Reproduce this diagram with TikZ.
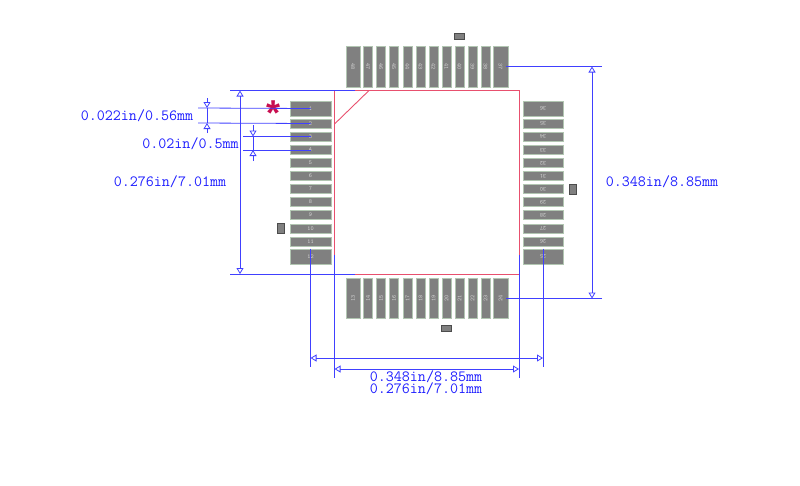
\documentclass[tikz,border=0pt]{standalone}
\usepackage{xcolor}
\usepackage{fontspec}
\newfontfamily\starfont{Liberation Sans}
\usetikzlibrary{arrows.meta}
\definecolor{padgray}{RGB}{128,128,128}
\definecolor{padedge}{RGB}{178,198,178}
\definecolor{dimblue}{RGB}{30,30,255}
\definecolor{outlinepink}{RGB}{232,80,110}
\definecolor{starred}{RGB}{200,15,80}
\tikzset{
     pad node/.style={fill=padgray, draw=padedge, line width=0.35pt, inner sep=0pt, text=white!65!padgray,
        font=\ttfamily\fontsize{6}{6}\selectfont},
     mark node/.style={fill=padgray, draw=black!70, line width=1pt, inner sep=0pt},
     dim node/.style={text=dimblue, inner sep=0pt, font=\ttfamily\fontsize{15.6}{15.6}\selectfont},
     witness/.style={dimblue!85, line width=0.8pt},
     dimline/.style={dimblue!85, line width=0.8pt, {Triangle[open,length=6pt,width=7pt]}-{Triangle[open,length=6pt,width=7pt]}},
     dimin/.style={dimblue!85, line width=0.8pt, -{Triangle[open,length=6pt,width=7pt]}},
     outline/.style={outlinepink, line width=0.9pt},
}
\begin{document}
\begin{tikzpicture}[x=1pt,y=-1pt]
    \useasboundingbox (0,0) rectangle (800,485);

    % package body
    \draw[outline] (334.5,90.5) rectangle (519,274);
    \draw[outline] (334.5,124) -- (369,90.5);

    % left side
    \node [pad node, minimum width=41pt, minimum height=15pt] (p1) at (310.5,108.5) {1};
    \foreach \n/\y in {2/123.5,3/136.5,4/150,5/163,6/176,7/189,8/202,9/215,10/228.5,11/241.5}
        \node [pad node, minimum width=41pt, minimum height=9pt] (p\n) at (310.5,\y) {\n};
    \node [pad node, minimum width=41pt, minimum height=15pt] (p12) at (310.5,256.5) {12};

    % bottom side
    \node [pad node, minimum width=14pt, minimum height=40pt] (p13) at (353,298.5) {\rotatebox{90}{13}};
    \foreach \n/\x in {14/368,15/381,16/394,17/407.5,18/420.5,19/433.5,20/446.5,21/459.5,22/472.5,23/485.5}
        \node [pad node, minimum width=9pt, minimum height=40pt] (p\n) at (\x,298.5) {\rotatebox{90}{\n}};
    \node [pad node, minimum width=15pt, minimum height=40pt] (p24) at (500.5,298.5) {\rotatebox{90}{24}};

    % right side
    \node [pad node, minimum width=40pt, minimum height=15pt] (p36) at (543,108.5) {\rotatebox{180}{36}};
    \foreach \n/\y in {35/123.5,34/136.5,33/150,32/163,31/176,30/189,29/202,28/215,27/228.5,26/241.5}
        \node [pad node, minimum width=40pt, minimum height=9pt] (p\n) at (543,\y) {\rotatebox{180}{\n}};
    \node [pad node, minimum width=40pt, minimum height=15pt] (p25) at (543,256.5) {\rotatebox{180}{25}};

    % top side
    \node [pad node, minimum width=14pt, minimum height=41pt] (p48) at (353,66.5) {\rotatebox{-90}{48}};
    \foreach \n/\x in {47/368,46/381,45/394,44/407.5,43/420.5,42/433.5,41/446.5,40/459.5,39/472.5,38/485.5}
        \node [pad node, minimum width=9pt, minimum height=41pt] (p\n) at (\x,66.5) {\rotatebox{-90}{\n}};
    \node [pad node, minimum width=15pt, minimum height=41pt] (p37) at (500.5,66.5) {\rotatebox{-90}{37}};

    % small marks
    \node [mark node, minimum width=10pt, minimum height=6.5pt] (mtop) at (459.5,36.5) {};
    \node [mark node, minimum width=6.5pt, minimum height=10pt] (mright) at (573,189) {};
    \node [mark node, minimum width=10pt, minimum height=6.5pt] (mbottom) at (446.5,328.5) {};
    \node [mark node, minimum width=6.5pt, minimum height=10pt] (mleft) at (281,228.5) {};

    \node [text=starred, inner sep=0pt, font=\starfont\bfseries\fontsize{36}{36}\selectfont] (star) at (273.5,113) {*};

    % free ends of the witness lines
    \coordinate (w1) at (198,108);
    \coordinate (w2) at (198,123);
    \coordinate (w3) at (243,136.5);
    \coordinate (w4) at (243,150);
    \coordinate (w5) at (230,90.5);
    \coordinate (w5e) at (355,90.5);
    \coordinate (w6) at (230,274);
    \coordinate (w6e) at (355,274);
    \coordinate (w7) at (602,66.5);
    \coordinate (w8) at (602,298.5);
    \coordinate (w9) at (310.5,367);
    \coordinate (w10) at (543,367);
    \coordinate (w11) at (334.5,255);
    \coordinate (w11e) at (334.5,378);
    \coordinate (w12) at (519,255);
    \coordinate (w12e) at (519,378);

    \draw[witness] (w1) -- (p1.center);
    \draw[witness] (w2) -- (p2.center);
    \draw[witness] (w3) -- (p3.center);
    \draw[witness] (w4) -- (p4.center);
    \draw[witness] (w5) -- (w5e);
    \draw[witness] (w6) -- (w6e);
    \draw[witness] (w7) -- ([xshift=-2pt]p37.east);
    \draw[witness] (w8) -- ([xshift=-2pt]p24.east);
    \draw[witness] (p12.north) -- (w9);
    \draw[witness] (p25.north) -- (w10);
    \draw[witness] (w11) -- (w11e);
    \draw[witness] (w12) -- (w12e);

    % outer arrows for the pitch and width
    \coordinate (a1) at (207,98);
    \coordinate (a1e) at (207,108);
    \coordinate (a2) at (207,133);
    \coordinate (a2e) at (207,123);
    \coordinate (b1) at (253,125);
    \coordinate (b1e) at (253,136.5);
    \coordinate (b2) at (253,161);
    \coordinate (b2e) at (253,150);
    \draw[dimin] (a1) -- (a1e);
    \draw[dimin] (a2) -- (a2e);
    \draw[witness] (a1e) -- (a2e);
    \draw[dimin] (b1) -- (b1e);
    \draw[dimin] (b2) -- (b2e);
    \draw[witness] (b1e) -- (b2e);

    % long dimensions
    \coordinate (c1) at (240,90.5);
    \coordinate (c2) at (240,274);
    \coordinate (d1) at (592,66.5);
    \coordinate (d2) at (592,298.5);
    \coordinate (e1) at (310.5,358);
    \coordinate (e2) at (543,358);
    \coordinate (f1) at (334.5,369);
    \coordinate (f2) at (519,369);
    \draw[dimline] (c1) -- (c2);
    \draw[dimline] (d1) -- (d2);
    \draw[dimline] (e1) -- (e2);
    \draw[dimline] (f1) -- (f2);

    \node [dim node] (pitchlabel) at (137,116) {0.022in/0.56mm};
    \node [dim node] (widthlabel) at (190.5,144) {0.02in/0.5mm};
    \node [dim node] (bodylabel) at (170,182) {0.276in/7.01mm};
    \node [dim node] (spanlabel) at (662,182) {0.348in/8.85mm};
    \node [dim node] (spanbottom) at (426,377) {0.348in/8.85mm};
    \node [dim node] (bodybottom) at (426,389) {0.276in/7.01mm};
\end{tikzpicture}
\end{document}
